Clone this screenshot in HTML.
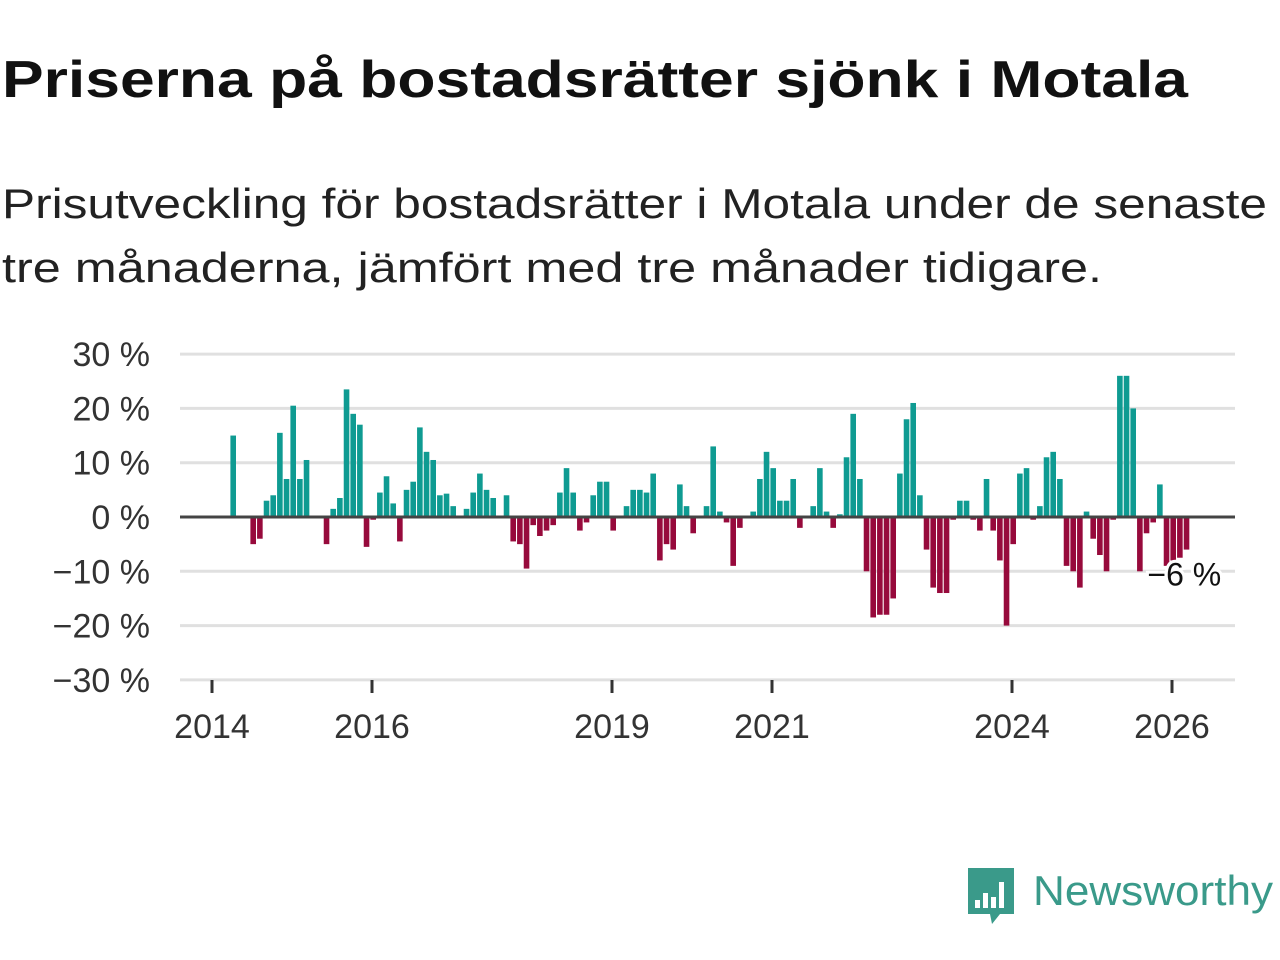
<!DOCTYPE html>
<html><head><meta charset="utf-8"><style>body{margin:0;background:#fff}svg{display:block}</style></head>
<body>
<svg id="chart" width="1280" height="960" xmlns="http://www.w3.org/2000/svg" font-family="'Liberation Sans', 'DejaVu Sans', sans-serif">
<text x="2" y="97" font-size="52" font-weight="bold" fill="#111" textLength="1186" lengthAdjust="spacingAndGlyphs">Priserna på bostadsrätter sjönk i Motala</text>
<text x="2" y="218" font-size="42" fill="#222" textLength="1265" lengthAdjust="spacingAndGlyphs">Prisutveckling för bostadsrätter i Motala under de senaste</text>
<text x="2" y="282" font-size="42" fill="#222" textLength="1100" lengthAdjust="spacingAndGlyphs">tre månaderna, jämfört med tre månader tidigare.</text>
<g id="grid"></g><g id="bars"></g><g id="axes"></g>
<g>
<path d="M968 868 h46 v46 h-14 l-8 10 l-2 -10 h-22 z" fill="#3a9a8a"/>
<rect x="975" y="900" width="5" height="8" fill="#fff"/><rect x="983" y="893" width="5" height="15" fill="#fff"/><rect x="991" y="897" width="5" height="11" fill="#fff"/><rect x="999" y="882" width="5" height="26" fill="#fff"/>
<text x="1033" y="905" font-size="42" fill="#3a9a8a" textLength="240" lengthAdjust="spacingAndGlyphs">Newsworthy</text>
</g>
</svg>
<script>
const startYear = 2014;
const values = [0,0,0,15,0,0,-5,-4,3,4,15.5,7,20.5,7,10.5,0,0,-5,1.5,3.5,23.5,19,17,-5.5,-0.5,4.5,7.5,2.5,-4.5,5,6.5,16.5,12,10.5,4,4.3,2,0,1.5,4.5,8,5,3.5,0,4,-4.5,-5,-9.5,-1.5,-3.5,-2.5,-1.5,4.5,9,4.5,-2.5,-1,4,6.5,6.5,-2.5,0,2,5,5,4.5,8,-8,-5,-6,6,2,-3,0,2,13,1,-1,-9,-2,0,1,7,12,9,3,3,7,-2,0,2,9,1,-2,0.5,11,19,7,-10,-18.5,-18,-18,-15,8,18,21,4,-6,-13,-14,-14,-0.5,3,3,-0.5,-2.5,7,-2.5,-8,-20,-5,8,9,-0.5,2,11,12,7,-9,-10,-13,1,-4,-7,-10,-0.5,26,26,20,-10,-3,-1,6,-9,-8,-7.5,-6];
const yTicks = [30,20,10,0,-10,-20,-30];
const yTickLabels = ["30 %","20 %","10 %","0 %","−10 %","−20 %","−30 %"];
const xTickYears = [2014,2016,2019,2021,2024,2026];
const lastLabel = "−6 %";
const NS="http://www.w3.org/2000/svg";
const y = v => 517 - v*5.43;
const xm = i => 212 + i*80/12;
const xy = yr => 212 + (yr-startYear)*80;
function mk(tag, attrs, parent){const e=document.createElementNS(NS,tag);for(const k in attrs)e.setAttribute(k,attrs[k]);parent.appendChild(e);return e;}
const grid=document.getElementById('grid'), bars=document.getElementById('bars'), axes=document.getElementById('axes');
yTicks.forEach((t,k)=>{
  if(t!==0){const l=mk('line',{x1:180,x2:1235,y1:y(t),y2:y(t),stroke:'#e0e0e0','stroke-width':3},grid);
  
  }
  const tx=mk('text',{x:150,y:y(t)+12,'text-anchor':'end','font-size':34,fill:'#333'},axes);
  tx.textContent=yTickLabels[k];
  
  
});
values.forEach((v,i)=>{
  if(v===0)return;
  const r=mk('rect',{x:xm(i)-1.6,width:5.6,y:Math.min(y(v),517),height:Math.abs(y(v)-517),fill:v>0?'#0f9b92':'#970a3c'},bars);
  
  
});
const z=mk('line',{x1:180,x2:1235,y1:517,y2:517,stroke:'#444','stroke-width':3},axes);


xTickYears.forEach(yr=>{
  const t=mk('line',{x1:xy(yr),x2:xy(yr),y1:680,y2:693,stroke:'#333','stroke-width':3},axes);
  
  
  const tx=mk('text',{x:xy(yr),y:738,'text-anchor':'middle','font-size':34,fill:'#333'},axes);
  tx.textContent=yr;
  
  
});
const li=values.length-1;
const lb=mk('text',{x:xm(li)-1,y:y(values[li])+36,'text-anchor':'middle','font-size':32,fill:'#111',stroke:'#fff','stroke-width':6,'paint-order':'stroke'},axes);
lb.textContent=lastLabel;


</script>
</body></html>
